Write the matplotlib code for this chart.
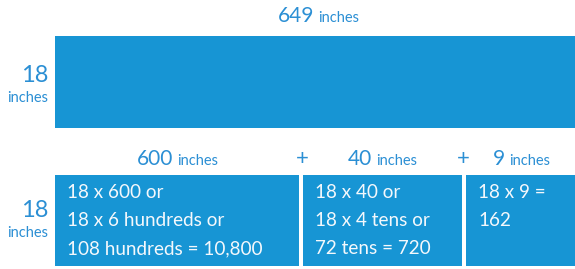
import matplotlib
matplotlib.use("Agg")
from matplotlib import pyplot as plt
from matplotlib.patches import Rectangle

plt.rcParams["font.family"] = ["Lato", "DejaVu Sans"]

# data
total_length = 649
height = 18
parts = [600, 40, 9]
unit = "inches"
part_texts = [
	["18 x 600 or", "18 x 6 hundreds or", "108 hundreds = 10,800"],
	["18 x 40 or", "18 x 4 tens or", "72 tens = 720"],
	["18 x 9 =", "162"],
]

BLUE = "#1795d4"
LABEL = "#2b8fd4"

# layout in pixels (schematic, not to scale)
W, H = 575, 269
top_box = (55, 36, 580, 128)
low_y0, low_y1 = 175, 266
part_x = [(55, 299), (303, 462), (466, 580)]

fig = plt.figure(figsize=(W / 100., H / 100.), dpi=100)
ax = fig.add_axes([0, 0, 1, 1])
ax.set_xlim(0, W)
ax.set_ylim(H, 0)
ax.axis("off")

def dim_label(x, y, value, big=15, small=10.5):
	# number big, unit small, side by side
	ax.text(x, y, "%d" % value, fontsize=big, color=LABEL, ha="right", va="baseline")
	ax.text(x + 4, y, unit, fontsize=small, color=LABEL, ha="left", va="baseline")

def side_label(y, value):
	ax.text(48, y, "%d" % value, fontsize=17, color=LABEL, ha="right", va="baseline")
	ax.text(48, y + 20, unit, fontsize=10.5, color=LABEL, ha="right", va="baseline")

# whole rectangle
x0, y0, x1, y1 = top_box
ax.add_patch(Rectangle((x0, y0), x1 - x0, y1 - y0, color=BLUE, lw=0))
dim_label(314, 22, total_length)
side_label(82, height)

# split rectangles
label_x = [173, 372, 505]
for (a, b), value, lines, lx in zip(part_x, parts, part_texts, label_x):
	ax.add_patch(Rectangle((a, low_y0), b - a, low_y1 - low_y0, color=BLUE, lw=0))
	dim_label(lx, 165, value)
	for i, line in enumerate(lines):
		ax.text(a + 12, 198 + i * 28, line, fontsize=13.6, color="#f4f8fc", ha="left", va="baseline")

for px in [302, 463]:
	ax.text(px, 165, "+", fontsize=16, color=LABEL, ha="center", va="baseline")
side_label(217, height)

fig.savefig("out.png", dpi=100)
